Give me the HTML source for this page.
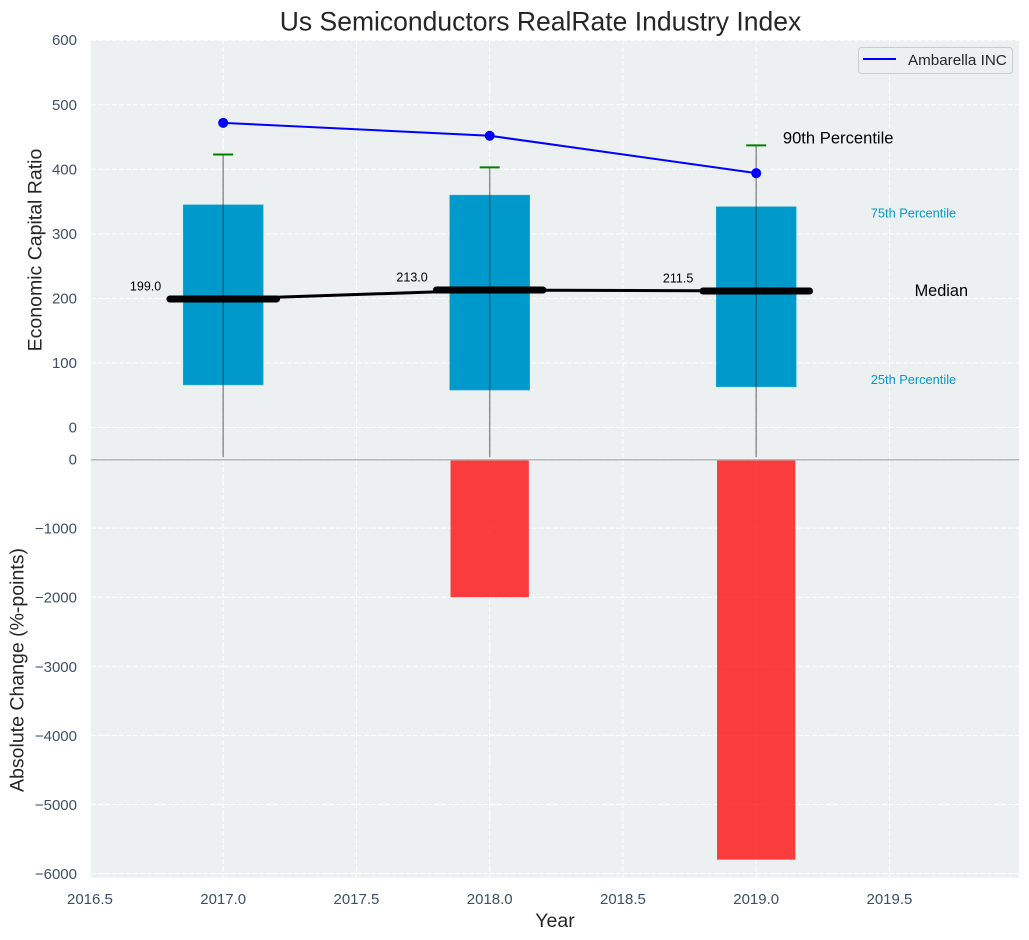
<!DOCTYPE html>
<html lang="en">
<head>
<meta charset="utf-8">
<title>Us Semiconductors RealRate Industry Index</title>
<style>
html,body{margin:0;padding:0;background:#fff;width:1029px;height:940px;overflow:hidden}
svg{display:block;font-family:"Liberation Sans",Arial,sans-serif}
</style>
</head>
<body>
<svg id="chart" xmlns="http://www.w3.org/2000/svg" width="1029" height="940" viewBox="0 0 1029 940">
  <rect x="91" y="40" width="928" height="419.5" fill="#ecf0f1"/>
  <rect x="91" y="459.5" width="928" height="418.2" fill="#ecf0f1"/>
  <g id="grid"></g>
  <g id="marks"></g>
  <g id="ticks"></g>
  <line x1="91" y1="459.7" x2="1019" y2="459.7" stroke="#b4b6b8" stroke-width="1.5"/>
  <g id="notes"></g>
  <text x="540.5" y="30.5" text-anchor="middle" font-size="26.5" fill="#262626">Us Semiconductors RealRate Industry Index</text>
  <text transform="translate(41.5 250) rotate(-90)" text-anchor="middle" font-size="19.5" fill="#262626">Economic Capital Ratio</text>
  <text transform="translate(23.5 670) rotate(-90)" text-anchor="middle" font-size="19.5" fill="#262626">Absolute Change (%-points)</text>
  <text x="555" y="927" text-anchor="middle" font-size="19.5" fill="#262626">Year</text>
  <g>
    <rect x="858.5" y="47.5" width="154" height="26" rx="3" fill="#ecf0f1" fill-opacity="0.8" stroke="#cccccc"/>
    <line x1="863" y1="59" x2="896" y2="59" stroke="#0000ff" stroke-width="2"/>
    <text x="908" y="65" font-size="15.2" fill="#262626">Ambarella INC</text>
  </g>
</svg>
<script>
const years = [2017, 2018, 2019];
const p90 = [423, 403, 437];
const p75 = [345, 360, 342];
const medians = [199.0, 213.0, 211.5];
const p25 = [66, 58, 63];
const lowWhisker = [-46, -46, -46];
const companyValues = [472, 452, 394];
const absoluteChange = [0, -2000, -5800];
const upperTicks = [0, 100, 200, 300, 400, 500, 600];
const lowerTicks = [0, -1000, -2000, -3000, -4000, -5000, -6000];
const xTicks = [2016.5, 2017, 2017.5, 2018, 2018.5, 2019, 2019.5];

const NS = 'http://www.w3.org/2000/svg';
const X = v => 223.2 + (v - 2017) * 266.5;
const YU = v => 427.5 - v * 0.6455;
const YL = v => 459.1 - v * 0.06906;
const gridG = document.getElementById('grid');
const marksG = document.getElementById('marks');
const ticksG = document.getElementById('ticks');
const notesG = document.getElementById('notes');

function make(parent, tag, attrs, content) {
  const el = document.createElementNS(NS, tag);
  for (const k in attrs) el.setAttribute(k, attrs[k]);
  if (content !== undefined) el.textContent = content;
  parent.appendChild(el);
  return el;
}
const gridStyle = {stroke: '#ffffff', 'stroke-width': 1, 'stroke-dasharray': '5 2'};
const tickColor = '#3d5066';
const fmt = v => String(v).replace('-', '\u2212');

upperTicks.forEach(t => {
  const g = make(gridG, 'line', Object.assign({x1: 91, x2: 1019, y1: YU(t), y2: YU(t)}, gridStyle));
  
  
  const l = make(ticksG, 'text', {x: 77, y: YU(t) + 5, 'text-anchor': 'end', 'font-size': 15, fill: tickColor}, fmt(t));
  
  
});
lowerTicks.forEach(t => {
  const g = make(gridG, 'line', Object.assign({x1: 91, x2: 1019, y1: YL(t), y2: YL(t)}, gridStyle));
  
  
  const l = make(ticksG, 'text', {x: 77, y: YL(t) + 5.5, 'text-anchor': 'end', 'font-size': 15, fill: tickColor}, fmt(t));
  
  
});
xTicks.forEach(t => {
  if (X(t) >= 91) {
    const g = make(gridG, 'line', Object.assign({x1: X(t), x2: X(t), y1: 40, y2: 877.7}, gridStyle));
    
    
  }
  const l = make(ticksG, 'text', {x: X(t), y: 904, 'text-anchor': 'middle', 'font-size': 15, fill: tickColor}, t.toFixed(1));
  
  
});

years.forEach((yr, i) => {
  const box = make(marksG, 'rect', {x: X(yr - 0.15), width: X(yr + 0.15) - X(yr - 0.15), y: YU(p75[i]), height: YU(p25[i]) - YU(p75[i]), fill: '#0099cc', stroke: '#33add6', 'stroke-width': 0.6});
  
  
  const bar = make(marksG, 'rect', {x: X(yr - 0.147), width: X(yr + 0.147) - X(yr - 0.147), y: YL(0), height: YL(absoluteChange[i]) - YL(0), fill: '#ff0000', 'fill-opacity': 0.75});
  
  
  const whisker = make(marksG, 'line', {x1: X(yr), x2: X(yr), y1: YU(p90[i]), y2: YU(lowWhisker[i]), stroke: '#303030', 'stroke-opacity': 0.5, 'stroke-width': 1.5});
  
  
  const cap = make(marksG, 'line', {x1: X(yr - 0.0375), x2: X(yr + 0.0375), y1: YU(p90[i]), y2: YU(p90[i]), stroke: '#008000', 'stroke-width': 2});
  
  
});

const medianPath = make(marksG, 'polyline', {points: years.map((yr, i) => X(yr) + ',' + YU(medians[i])).join(' '), fill: 'none', stroke: '#000000', 'stroke-width': 3});



years.forEach((yr, i) => {
  const m = make(marksG, 'line', {x1: X(yr - 0.2), x2: X(yr + 0.2), y1: YU(medians[i]), y2: YU(medians[i]), stroke: '#000000', 'stroke-width': 7, 'stroke-linecap': 'round'});
  
  
  const t = make(notesG, 'text', {x: X(yr - 0.35), y: YU(medians[i]) - 8.5, 'font-size': 12.5, fill: '#000000'}, medians[i].toFixed(1));
  
  
});

const companyPath = make(marksG, 'polyline', {points: years.map((yr, i) => X(yr) + ',' + YU(companyValues[i])).join(' '), fill: 'none', stroke: '#0000ff', 'stroke-width': 2});


years.forEach((yr, i) => {
  const d = make(marksG, 'circle', {cx: X(yr), cy: YU(companyValues[i]), r: 5, fill: '#0000ff'});
  
  
});

const last = years.length - 1;
const lastYear = years[last];
const n90 = make(notesG, 'text', {x: X(lastYear + 0.1), y: YU(p90[last]) - 2, 'font-size': 16.6, fill: '#000000'}, '90th Percentile');


const n75 = make(notesG, 'text', {x: X(lastYear + 0.43), y: YU(p75[last]) + 11, 'font-size': 12.8, fill: '#0099cc'}, '75th Percentile');


const nMed = make(notesG, 'text', {x: X(lastYear + 0.6) - 1.5, y: YU(medians[last]) + 4.8, 'font-size': 16.3, fill: '#000000'}, 'Median');


const n25 = make(notesG, 'text', {x: X(lastYear + 0.43), y: YU(p25[last]) - 3, 'font-size': 12.8, fill: '#0099cc'}, '25th Percentile');


</script>
</body>
</html>
